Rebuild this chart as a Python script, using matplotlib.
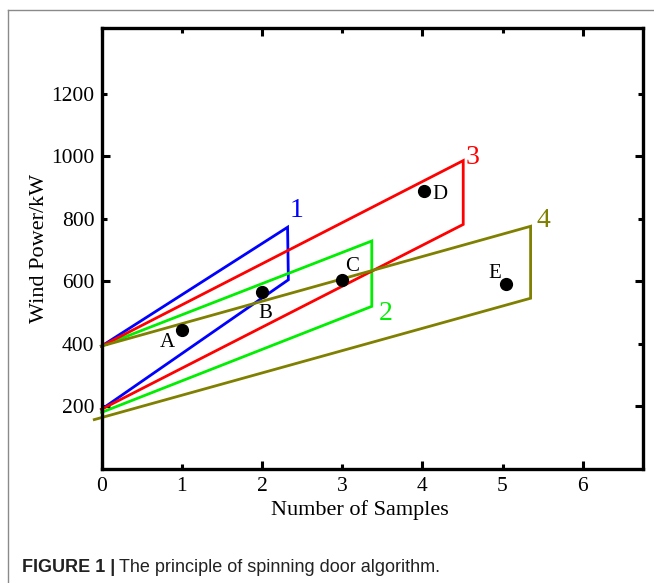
import matplotlib
matplotlib.use('Agg')
import matplotlib.pyplot as plt
from matplotlib.lines import Line2D

# sample points A..E
pt_names = ['A', 'B', 'C', 'D', 'E']
pt_x = [1.0, 2.0, 3.0, 4.02, 5.04]
pt_y = [445, 565, 603, 889, 591]
pt_lbl_x = [0.82, 2.04, 3.12, 4.22, 4.90]
pt_lbl_y = [403, 497, 648, 878, 626]

# spinning doors: upper start -> upper end -> lower end -> lower start
door_names = ['1', '2', '3', '4']
door_colors = ['#0000ff', '#00ee00', '#ff0000', '#808000']
door_x = [[0, 2.32, 2.33, 0],
          [0, 3.37, 3.37, 0],
          [0, 4.51, 4.51, 0],
          [0, 5.35, 5.35, -0.09]]
door_y = [[393, 773, 605, 191],
          [393, 729, 520, 181],
          [393, 986, 782, 191],
          [393, 776, 546, 158]]
door_lbl_x = [2.43, 3.54, 4.62, 5.51]
door_lbl_y = [825, 497, 996, 793]

fig = plt.figure(figsize=(6.54, 5.83), dpi=100)
ax = fig.add_axes([0.1552, 0.1955, 0.8278, 0.7565])

serif = 'Liberation Serif'

for i in range(len(door_names)):
    ax.plot(door_x[i], door_y[i], color=door_colors[i], lw=2.0, clip_on=False,
            solid_joinstyle='miter')
    ax.text(door_lbl_x[i], door_lbl_y[i], door_names[i], color=door_colors[i],
            fontsize=20, family=serif, ha='center', va='center')

ax.plot(pt_x, pt_y, 'o', color='black', ms=8.5, ls='none')
for i in range(len(pt_names)):
    ax.text(pt_lbl_x[i], pt_lbl_y[i], pt_names[i], fontsize=15, family=serif,
            ha='center', va='center')

ax.set_xlim(0, 6.75)
ax.set_ylim(0, 1410)

ax.set_xticks([0, 2, 4, 6])
ax.set_xticklabels(['0', '2', '4', '6'])
ax.set_xticks([1, 3, 5], minor=True)
ax.set_xticklabels(['1', '3', '5'], minor=True)
ax.set_yticks([200, 600, 1000])
ax.set_yticklabels(['200', '600', '1000'])
ax.set_yticks([400, 800, 1200], minor=True)
ax.set_yticklabels(['400', '800', '1200'], minor=True)

ax.tick_params(which='both', direction='in', top=True, right=True, width=2.2,
               labelsize=15.5)
ax.tick_params(axis='x', which='both', pad=6)
ax.tick_params(axis='y', which='both', pad=5)
ax.tick_params(which='major', length=6)
ax.tick_params(which='minor', length=3.5)
for lab in ax.get_xticklabels(which='both') + ax.get_yticklabels(which='both'):
    lab.set_family(serif)

for sp in ax.spines.values():
    sp.set_linewidth(2.4)

ax.set_xlabel('Number of Samples', fontsize=16, family=serif, labelpad=3, x=0.478)
ax.set_ylabel('Wind Power/kW', fontsize=16, family=serif, labelpad=2)

# outer frame of the figure panel
fig.add_artist(Line2D([8 / 654, 1.0], [1 - 10 / 583, 1 - 10 / 583],
                      color='#8a8a8a', lw=1.0))
fig.add_artist(Line2D([8 / 654, 8 / 654], [0, 1 - 10 / 583],
                      color='#8a8a8a', lw=1.0))

fig.text(22 / 654, 1 - 568 / 583, 'FIGURE 1 |', fontsize=13, weight='bold',
         family='Liberation Sans', va='center', color='#222222')
fig.text(119 / 654, 1 - 568 / 583, 'The principle of spinning door algorithm.',
         fontsize=13, family='Liberation Sans', va='center', color='#222222')

fig.savefig('out.png', dpi=100)
